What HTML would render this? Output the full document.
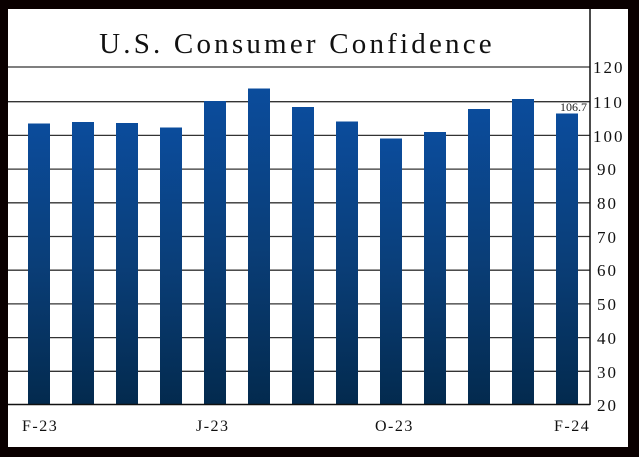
<!DOCTYPE html>
<html><head><style>
html,body{margin:0;padding:0;background:#0a0000;}
</style></head><body>
<svg width="639" height="457" xmlns="http://www.w3.org/2000/svg" style="display:block">
<defs>
<linearGradient id="g" x1="0" y1="0" x2="0" y2="1" gradientUnits="objectBoundingBox">
<stop offset="0" stop-color="#0b4c9c"/>
<stop offset="0.5" stop-color="#0a3e78"/>
<stop offset="1" stop-color="#032a4e"/>
</linearGradient>
</defs>
<rect x="0" y="0" width="639" height="457" fill="#0a0000"/>
<rect x="8" y="9" width="620" height="438" fill="#fff"/>
<text x="297" y="53" text-anchor="middle" font-family="Liberation Serif, serif" font-size="29" letter-spacing="3.2" fill="#111">U.S. Consumer Confidence</text>
<g stroke="#333" stroke-width="1.3">
<line x1="8" y1="67" x2="590" y2="67"/>
<line x1="8" y1="101.7" x2="590" y2="101.7"/>
<line x1="8" y1="135.4" x2="590" y2="135.4"/>
<line x1="8" y1="169.1" x2="590" y2="169.1"/>
<line x1="8" y1="202.8" x2="590" y2="202.8"/>
<line x1="8" y1="236.5" x2="590" y2="236.5"/>
<line x1="8" y1="270.2" x2="590" y2="270.2"/>
<line x1="8" y1="303.9" x2="590" y2="303.9"/>
<line x1="8" y1="337.6" x2="590" y2="337.6"/>
<line x1="8" y1="371.3" x2="590" y2="371.3"/>
</g>
<g fill="url(#g)">
<rect x="28" y="123.5" width="22" height="280.5"/>
<rect x="72" y="122" width="22" height="282"/>
<rect x="116" y="123" width="22" height="281"/>
<rect x="160" y="127.5" width="22" height="276.5"/>
<rect x="204" y="101" width="22" height="303"/>
<rect x="248" y="88.5" width="22" height="315.5"/>
<rect x="292" y="107" width="22" height="297"/>
<rect x="336" y="121.5" width="22" height="282.5"/>
<rect x="380" y="138.5" width="22" height="265.5"/>
<rect x="424" y="132" width="22" height="272"/>
<rect x="468" y="109" width="22" height="295"/>
<rect x="512" y="99" width="22" height="305"/>
<rect x="556" y="113.5" width="22" height="290.5"/>
</g>
<line x1="8" y1="404.5" x2="590" y2="404.5" stroke="#111" stroke-width="1.5"/>
<line x1="590" y1="9" x2="590" y2="405" stroke="#111" stroke-width="1.5"/>
<text x="587" y="111" text-anchor="end" font-family="Liberation Serif, serif" font-size="12" fill="#222">106.7</text>
<g font-family="Liberation Serif, serif" font-size="17" letter-spacing="2" fill="#111">
<text x="593" y="73">120</text>
<text x="593" y="108">110</text>
<text x="593" y="142">100</text>
<text x="597" y="175">90</text>
<text x="597" y="209">80</text>
<text x="597" y="243">70</text>
<text x="597" y="276">60</text>
<text x="597" y="310">50</text>
<text x="597" y="344">40</text>
<text x="597" y="378">30</text>
<text x="597" y="411">20</text>
</g>
<g font-family="Liberation Serif, serif" font-size="16" letter-spacing="1.5" fill="#111">
<text x="22" y="431">F-23</text>
<text x="196" y="431">J-23</text>
<text x="375" y="431">O-23</text>
<text x="554" y="431">F-24</text>
</g>
</svg>
</body></html>
